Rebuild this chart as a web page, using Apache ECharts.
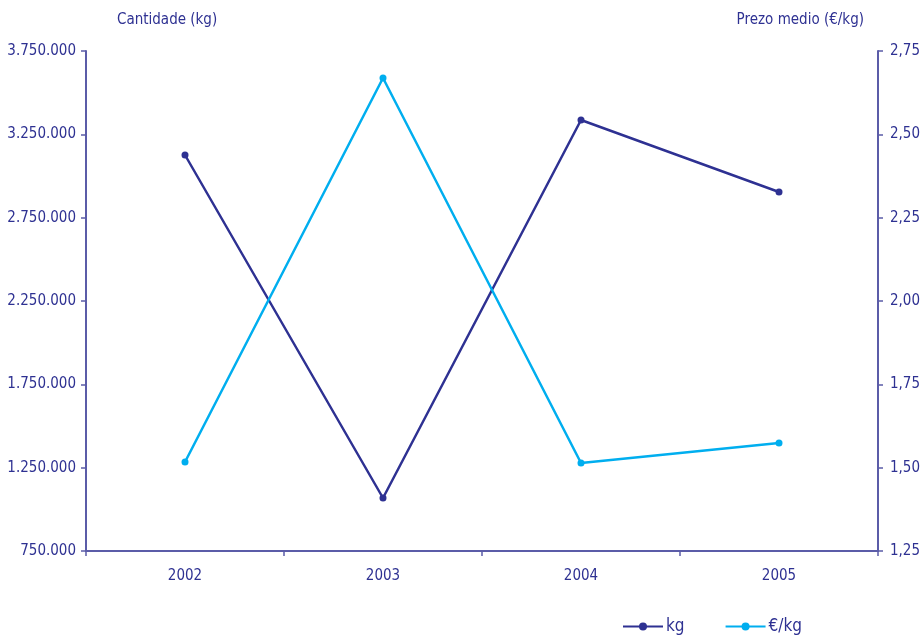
<!DOCTYPE html>
<html>
<head>
<meta charset="utf-8">
<script src="https://cdn.jsdelivr.net/npm/echarts@6/dist/echarts.min.js"></script>
<style>
  html, body { margin: 0; padding: 0; background: #fff; }
  #chart { width: 921px; height: 640px; }
</style>
</head>
<body>
<div id="chart"></div>
<script>
// datos do gráfico
var years = ['2002', '2003', '2004', '2005'];
var kgValues = [3126000, 1068000, 3336000, 2904000];
var priceValues = [1.517, 2.669, 1.514, 1.574];

var navy = '#2e3192';
var axisCol = '#5b5ca8';
var cyan = '#00aeef';
var font = "'Liberation Sans Narrow', 'DejaVu Sans Condensed', sans-serif";

var chart = echarts.init(document.getElementById('chart'));

function fmtKg(v) {
  return String(v).replace(/\B(?=(\d{3})+(?!\d))/g, '.');
}
function fmtPrice(v) {
  return v.toFixed(2).replace('.', ',');
}

chart.setOption({
  animation: false,
  textStyle: { fontFamily: font },
  grid: { left: 86, right: 43, top: 51, bottom: 89, outerBoundsMode: 'none' },
  legend: {
    left: 617,
    bottom: 0,
    itemWidth: 40,
    itemHeight: 10,
    itemGap: 40,
    textStyle: { color: navy, fontSize: 17, fontFamily: font, padding: [0, 0, 0, -2] },
    data: ['kg', '€/kg']
  },
  xAxis: {
    type: 'category',
    data: years,
    boundaryGap: true,
    axisLine: { lineStyle: { color: axisCol, width: 2 } },
    axisTick: { show: true, length: 5, lineStyle: { color: axisCol, width: 1.5 } },
    axisLabel: { color: navy, fontSize: 15, margin: 18, fontFamily: font }
  },
  yAxis: [
    {
      type: 'value',
      min: 750000,
      max: 3750000,
      interval: 500000,
      name: 'Cantidade (kg)',
      nameLocation: 'end',
      nameGap: 31,
      nameTextStyle: { color: navy, fontSize: 15, fontFamily: font, align: 'left', verticalAlign: 'middle', padding: [0, 0, 0, 31] },
      axisLine: { show: true, lineStyle: { color: axisCol, width: 2 } },
      axisTick: { show: true, length: 5, lineStyle: { color: axisCol, width: 1.5 } },
      axisLabel: { color: navy, fontSize: 15, margin: 10, fontFamily: font, formatter: fmtKg },
      splitLine: { show: false }
    },
    {
      type: 'value',
      min: 1.25,
      max: 2.75,
      interval: 0.25,
      name: 'Prezo medio (€/kg)',
      nameLocation: 'end',
      nameGap: 31,
      nameTextStyle: { color: navy, fontSize: 15, fontFamily: font, align: 'right', verticalAlign: 'middle', padding: [0, 14, 0, 0] },
      axisLine: { show: true, lineStyle: { color: axisCol, width: 2 } },
      axisTick: { show: true, length: 5, lineStyle: { color: axisCol, width: 1.5 } },
      axisLabel: { color: navy, fontSize: 15, margin: 12, fontFamily: font, formatter: fmtPrice },
      splitLine: { show: false }
    }
  ],
  series: [
    {
      name: 'kg',
      type: 'line',
      yAxisIndex: 0,
      data: kgValues,
      symbol: 'circle',
      symbolSize: 7,
      lineStyle: { color: navy, width: 2.5 },
      itemStyle: { color: navy }
    },
    {
      name: '€/kg',
      type: 'line',
      yAxisIndex: 1,
      data: priceValues,
      symbol: 'circle',
      symbolSize: 7,
      lineStyle: { color: cyan, width: 2.5 },
      itemStyle: { color: cyan }
    }
  ]
});
</script>
</body>
</html>
